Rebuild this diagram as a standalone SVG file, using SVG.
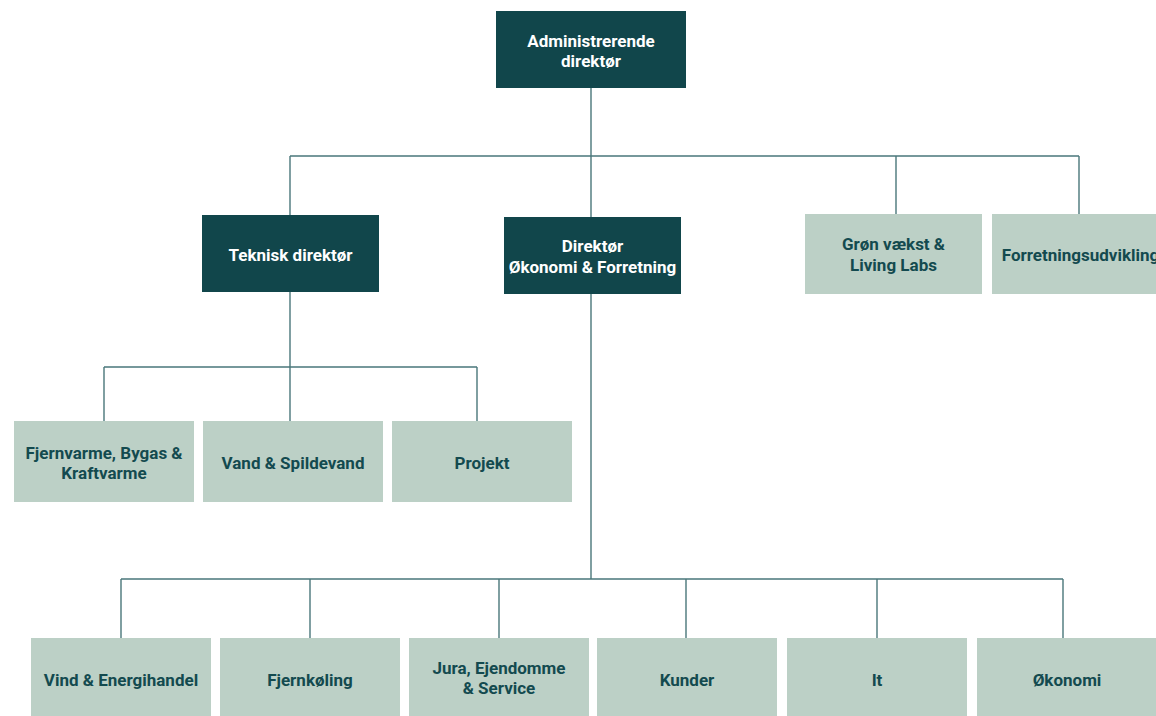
<svg xmlns="http://www.w3.org/2000/svg" width="1156" height="716" viewBox="0 0 1156 716">
<style>
.dark{fill:#11464b}
.light{fill:#bcd0c6}
.tw{fill:#ffffff;font-family:Roboto,"Liberation Sans",sans-serif;font-weight:700;font-size:17px;text-anchor:middle}
.td{fill:#134a4f;font-family:Roboto,"Liberation Sans",sans-serif;font-weight:700;font-size:17px;text-anchor:middle}
.con{fill:none;stroke:#4a777b;stroke-width:1.4}
</style>
<rect width="1156" height="716" fill="#ffffff"/>
<g id="connectors" class="con">
<path d="M591 87V156M290 156H1079M290 156V215M591 156V217M896 156V214M1079 156V214"/>
<path d="M290 291V367M104 367H477M104 367V421M290 367V421M477 367V421"/>
<path d="M591 293V579M121 579H1063M121 579V638M310 579V638M499 579V638M686 579V638M877 579V638M1063 579V638"/>
</g>
<g id="n-adm"><rect class="dark" x="496" y="11" width="190" height="77"/><text class="tw" x="591" y="47">Administrerende</text><text class="tw" x="591" y="67">direktør</text></g>
<g id="n-tek"><rect class="dark" x="202" y="215" width="177" height="77"/><text class="tw" x="290.5" y="261">Teknisk direktør</text></g>
<g id="n-dir"><rect class="dark" x="504" y="217" width="177" height="77"/><text class="tw" x="592.5" y="252">Direktør</text><text class="tw" x="592.5" y="272.5">Økonomi &amp; Forretning</text></g>
<g id="n-gron"><rect class="light" x="805" y="214" width="177" height="80"/><text class="td" x="893.5" y="250">Grøn vækst &amp;</text><text class="td" x="893.5" y="270.5">Living Labs</text></g>
<g id="n-forr"><rect class="light" x="992" y="214" width="177" height="80"/><text class="td" x="1080.5" y="260.5">Forretningsudvikling</text></g>
<g id="n-fjv"><rect class="light" x="14" y="421" width="180" height="81"/><text class="td" x="104" y="458.5">Fjernvarme, Bygas &amp;</text><text class="td" x="104" y="479">Kraftvarme</text></g>
<g id="n-vand"><rect class="light" x="203" y="421" width="180" height="81"/><text class="td" x="293" y="469">Vand &amp; Spildevand</text></g>
<g id="n-proj"><rect class="light" x="392" y="421" width="180" height="81"/><text class="td" x="482" y="469">Projekt</text></g>
<g id="n-vind"><rect class="light" x="31" y="638" width="180" height="80"/><text class="td" x="121" y="686">Vind &amp; Energihandel</text></g>
<g id="n-fjk"><rect class="light" x="220" y="638" width="180" height="80"/><text class="td" x="310" y="686">Fjernkøling</text></g>
<g id="n-jura"><rect class="light" x="409" y="638" width="180" height="80"/><text class="td" x="499" y="674">Jura, Ejendomme</text><text class="td" x="499" y="694">&amp; Service</text></g>
<g id="n-kund"><rect class="light" x="597" y="638" width="180" height="80"/><text class="td" x="687" y="685.5">Kunder</text></g>
<g id="n-it"><rect class="light" x="787" y="638" width="180" height="80"/><text class="td" x="877" y="685.5">It</text></g>
<g id="n-oko"><rect class="light" x="977" y="638" width="180" height="80"/><text class="td" x="1067" y="685.5">Økonomi</text></g>
</svg>
